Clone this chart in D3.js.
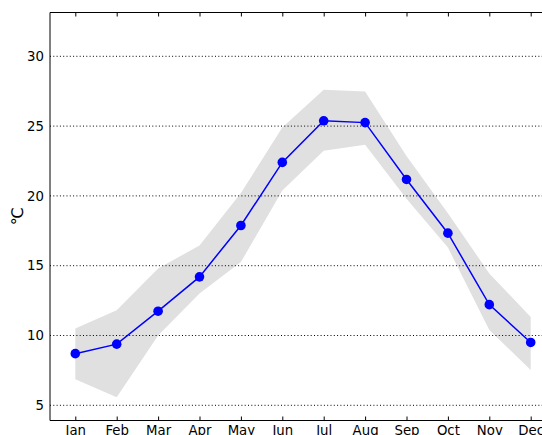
<!DOCTYPE html>
<html>
<head>
<meta charset="utf-8">
<script src="https://cdn.jsdelivr.net/npm/d3@7"></script>
<style>
  html, body { margin: 0; padding: 0; background: #fff; }
  svg { display: block; font-family: "DejaVu Sans", sans-serif; }
</style>
</head>
<body>
<svg id="chart" width="542" height="435"></svg>
<script>
// Monthly mean temperature with min/max range band
const months = ["Jan", "Feb", "Mar", "Apr", "May", "Jun", "Jul", "Aug", "Sep", "Oct", "Nov", "Dec"];
const meanTemp = [8.7, 9.38, 11.74, 14.2, 17.88, 22.4, 25.38, 25.25, 21.18, 17.33, 12.21, 9.5];
const upperTemp = [10.5, 11.8, 14.8, 16.45, 20.2, 24.9, 27.6, 27.47, 22.85, 18.75, 14.45, 11.33];
const lowerTemp = [6.86, 5.57, 10.0, 13.0, 15.26, 20.38, 23.24, 23.66, 19.8, 16.3, 10.4, 7.52];
const yTicks = [5, 10, 15, 20, 25, 30];

const svg = d3.select("#chart");
const plotLeft = 50, plotTop = 12.5, plotBottom = 420.5;
const step = 41.4;
const firstX = 75.3;

const x = d3.scaleLinear().domain([0, 11]).range([firstX, firstX + 11 * step]);
const y = d3.scaleLinear().domain([5, 30]).range([405.3, 56.3]);

const rows = months.map((m, i) => ({ i, m, mean: meanTemp[i], hi: upperTemp[i], lo: lowerTemp[i] }));

// Clip everything to the plot area
svg.append("defs").append("clipPath").attr("id", "plot")
  .append("rect").attr("x", plotLeft).attr("y", plotTop).attr("width", 542 - plotLeft).attr("height", plotBottom - plotTop);

const plot = svg.append("g").attr("clip-path", "url(#plot)");

// Range band
plot.append("path")
  .datum(rows)
  .attr("fill", "#e0e0e0")
  .attr("stroke", "none")
  .attr("d", d3.area().x(d => x(d.i)).y0(d => y(d.lo)).y1(d => y(d.hi)));

// Horizontal dotted grid
plot.append("g").selectAll("line").data(yTicks).join("line")
  .attr("x1", plotLeft).attr("x2", 542)
  .attr("y1", d => y(d)).attr("y2", d => y(d))
  .attr("stroke", "#000").attr("stroke-width", 1)
  .attr("stroke-dasharray", "1,2.3");

// Mean line and markers
plot.append("path")
  .datum(rows)
  .attr("fill", "none")
  .attr("stroke", "#0000ff")
  .attr("stroke-width", 1.5)
  .attr("d", d3.line().x(d => x(d.i)).y(d => y(d.mean)));

plot.append("g").selectAll("circle").data(rows).join("circle")
  .attr("cx", d => x(d.i)).attr("cy", d => y(d.mean))
  .attr("r", 4.8).attr("fill", "#0000ff");

// Bottom axis with inward ticks
const xAxisBottom = d3.axisBottom(x).tickValues(d3.range(12)).tickFormat(i => months[i]).tickSizeInner(-4).tickSizeOuter(0).tickPadding(5);
const gb = svg.append("g").attr("transform", `translate(0,${plotBottom})`).call(xAxisBottom);
gb.select(".domain").remove();
gb.selectAll(".tick line").attr("stroke", "#000");
gb.selectAll(".tick text").attr("font-size", "13.3px").attr("fill", "#000")
  .attr("font-family", "DejaVu Sans, sans-serif");

// Top axis ticks (no labels)
const xAxisTop = d3.axisTop(x).tickValues(d3.range(12)).tickFormat("").tickSizeInner(-4).tickSizeOuter(0);
const gt = svg.append("g").attr("transform", `translate(0,${plotTop})`).call(xAxisTop);
gt.select(".domain").remove();
gt.selectAll(".tick line").attr("stroke", "#000");

// Left axis labels
const yAxis = d3.axisLeft(y).tickValues(yTicks).tickSize(0).tickPadding(6);
const gl = svg.append("g").attr("transform", `translate(${plotLeft},0)`).call(yAxis);
gl.select(".domain").remove();
gl.selectAll(".tick text").attr("font-size", "13.3px").attr("fill", "#000")
  .attr("font-family", "DejaVu Sans, sans-serif");

// Spines
svg.append("line").attr("x1", plotLeft).attr("x2", 542).attr("y1", plotTop).attr("y2", plotTop).attr("stroke", "#000");
svg.append("line").attr("x1", plotLeft).attr("x2", 542).attr("y1", plotBottom).attr("y2", plotBottom).attr("stroke", "#000");
svg.append("line").attr("x1", plotLeft).attr("x2", plotLeft).attr("y1", plotTop).attr("y2", plotBottom).attr("stroke", "#000");

// Y axis title
svg.append("text")
  .attr("transform", `translate(23,216.5) rotate(-90)`)
  .attr("text-anchor", "middle")
  .attr("font-size", "16px")
  .attr("fill", "#000")
  .text("℃");
</script>
</body>
</html>
